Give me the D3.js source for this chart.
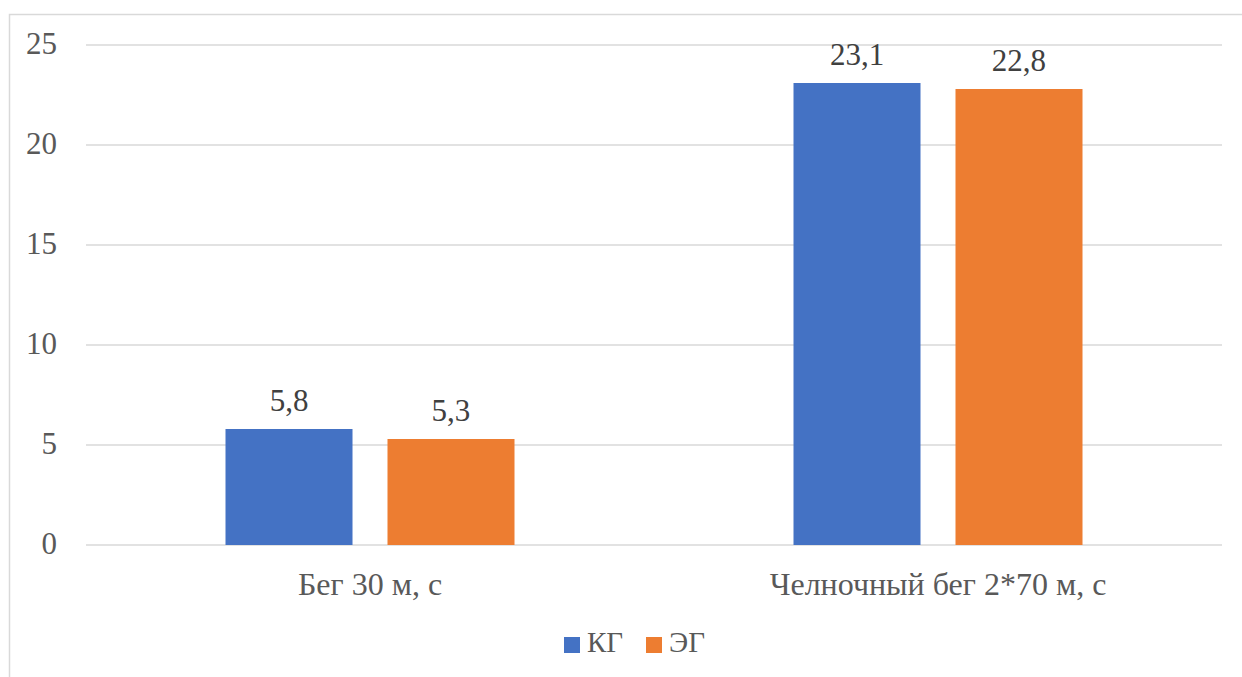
<!DOCTYPE html>
<html>
<head>
<meta charset="utf-8">
<script src="https://cdn.jsdelivr.net/npm/d3@7"></script>
</head>
<body style="margin:0; background:#fff">
<script>
const categories = ["Бег 30 м, с", "Челночный бег 2*70 м, с"];
const seriesNames = ["КГ", "ЭГ"];
const kgValues = [5.8, 23.1];
const egValues = [5.3, 22.8];
const yTicks = [0, 5, 10, 15, 20, 25];
const colors = ["#4472c4", "#ed7d31"];

const FONT = "Liberation Serif";
const width = 1242, height = 677;
// plot area
const margin = {top: 45, right: 20, bottom: 132, left: 86};
const plotW = width - margin.left - margin.right,
      plotH = height - margin.top - margin.bottom;

const svg = d3.select("body").append("svg")
  .attr("width", width)
  .attr("height", height);

// outer chart border
svg.append("rect")
  .attr("x", 9.5).attr("y", 14.5)
  .attr("width", 1300).attr("height", 700)
  .attr("fill", "none")
  .attr("stroke", "#d9d9d9")
  .attr("stroke-width", 1.5);

const g = svg.append("g")
  .attr("transform", "translate(" + margin.left + "," + margin.top + ")");

var x0 = d3.scaleBand().domain(categories).range([0, plotW]).padding(0);
var groupW = 289;
var x1 = d3.scaleBand().domain(seriesNames).range([0, groupW]).paddingInner(0.216).paddingOuter(0);
var y = d3.scaleLinear().domain([0, 25]).range([plotH, 0]);

// gridlines
g.selectAll(".grid").data(yTicks).enter().append("line")
  .attr("x1", 0).attr("x2", plotW)
  .attr("y1", d => y(d)).attr("y2", d => y(d))
  .attr("stroke", "#d9d9d9").attr("stroke-width", 1.5);

// y axis labels
g.selectAll(".ylab").data(yTicks).enter().append("text")
  .attr("x", -29).attr("y", d => y(d) + 9)
  .attr("text-anchor", "end")
  .attr("fill", "#595959")
  .attr("font-size", 31)
  .style("font-family", FONT)
  .text(d => d);

var data = categories.map(function(c, i) {
  return {cat: c, vals: [{s: seriesNames[0], v: kgValues[i]}, {s: seriesNames[1], v: egValues[i]}]};
});

var groups = g.selectAll(".grp").data(data).enter().append("g")
  .attr("transform", d => "translate(" + (x0(d.cat) + (x0.bandwidth() - groupW) / 2) + ",0)");

groups.selectAll("rect").data(d => d.vals).enter().append("rect")
  .attr("x", d => x1(d.s))
  .attr("width", x1.bandwidth())
  .attr("y", d => y(d.v))
  .attr("height", d => y(0) - y(d.v))
  .attr("fill", (d, i) => colors[i]);

groups.selectAll(".val").data(d => d.vals).enter().append("text")
  .attr("x", d => x1(d.s) + x1.bandwidth() / 2)
  .attr("y", d => y(d.v) - 18)
  .attr("text-anchor", "middle")
  .attr("fill", "#404040")
  .attr("font-size", 31)
  .style("font-family", FONT)
  .text(d => String(d.v).replace(".", ","));

// category labels
g.selectAll(".cat").data(categories).enter().append("text")
  .attr("x", d => x0(d) + x0.bandwidth() / 2)
  .attr("y", plotH + 50)
  .attr("text-anchor", "middle")
  .attr("fill", "#595959")
  .attr("font-size", 32)
  .style("font-family", FONT)
  .text(d => d);

// legend
var legendX = [564, 646];
var legend = svg.selectAll(".legend").data(seriesNames).enter().append("g")
  .attr("transform", (d, i) => "translate(" + legendX[i] + ",637)");
legend.append("rect")
  .attr("width", 16).attr("height", 16)
  .attr("fill", (d, i) => colors[i]);
legend.append("text")
  .attr("x", 23).attr("y", 15)
  .attr("fill", "#595959")
  .attr("font-size", 29)
  .style("font-family", FONT)
  .text(d => d);
</script>
</body>
</html>
